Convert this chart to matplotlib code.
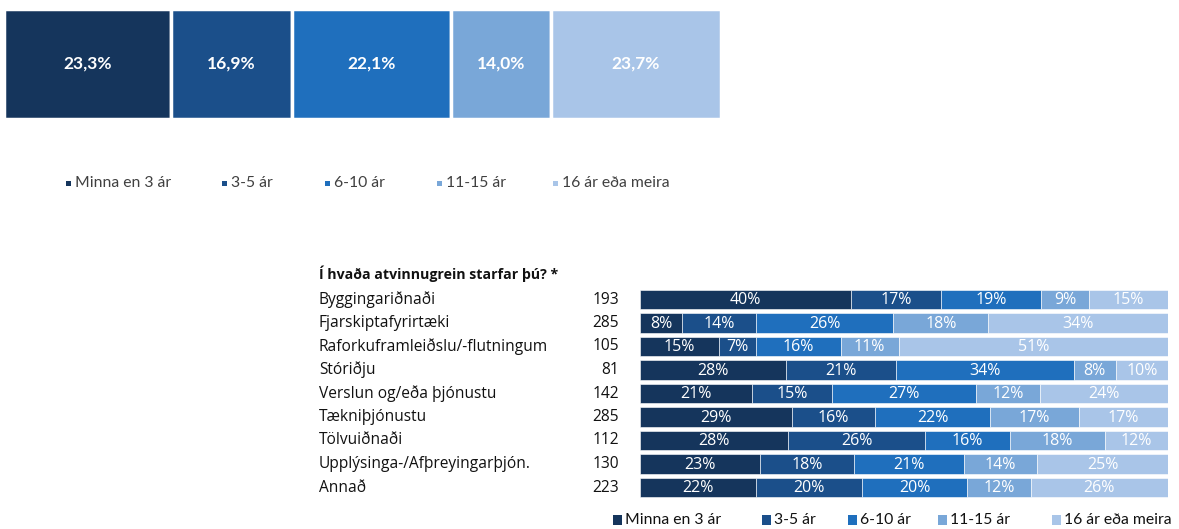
import matplotlib
matplotlib.use("Agg")
import matplotlib.pyplot as plt
from matplotlib.patches import Rectangle
import numpy as np

plt.rcParams['font.family'] = ['Lato', 'DejaVu Sans']
WIDE = ['Open Sans', 'DejaVu Sans']

series = ["Minna en 3 ár", "3-5 ár", "6-10 ár", "11-15 ár", "16 ár eða meira"]
colors = ["#15355c", "#1b4f8a", "#1f6fbd", "#79a7d8", "#a9c5e8"]

total_values = [23.3, 16.9, 22.1, 14.0, 23.7]
total_labels = ["23,3%", "16,9%", "22,1%", "14,0%", "23,7%"]

title2 = "Í hvaða atvinnugrein starfar þú? *"
industries = ["Byggingariðnaði", "Fjarskiptafyrirtæki", "Raforkuframleiðslu/-flutningum",
              "Stóriðju", "Verslun og/eða þjónustu", "Tækniþjónustu", "Tölvuiðnaði",
              "Upplýsinga-/Afþreyingarþjón.", "Annað"]
counts = [193, 285, 105, 81, 142, 285, 112, 130, 223]
s_min3 = [40, 8, 15, 28, 21, 29, 28, 23, 22]
s_3_5 = [17, 14, 7, 21, 15, 16, 26, 18, 20]
s_6_10 = [19, 26, 16, 34, 27, 22, 16, 21, 20]
s_11_15 = [9, 18, 11, 8, 12, 17, 18, 14, 12]
s_16 = [15, 34, 51, 10, 24, 17, 12, 25, 26]

W, H = 1179, 529
fig = plt.figure(figsize=(W / 100, H / 100), dpi=100)
fig.patch.set_facecolor("white")

def px_axes(x0, y0, x1, y1):
    return fig.add_axes([x0 / W, 1 - y1 / H, (x1 - x0) / W, (y1 - y0) / H])

# ---- Top chart ----
ax1 = px_axes(4, 9, 721, 119)
left = 0.0
tot = sum(total_values)
for v, lab, c in zip(total_values, total_labels, colors):
    w = v / tot
    ax1.barh(0, w, left=left, height=1.0, color=c, edgecolor="white", linewidth=2.5)
    ax1.text(left + w / 2, 0, lab, ha="center", va="center", color="white",
             fontsize=12.5, fontweight="bold")
    left += w
ax1.set_xlim(0, 1)
ax1.set_ylim(-0.5, 0.5)
ax1.axis("off")

leg1_x = [66, 222, 325, 437, 553]
for x, lab, c in zip(leg1_x, series, colors):
    fig.add_artist(Rectangle((x / W, 1 - 186 / H), 5 / W, 5 / H, transform=fig.transFigure,
                             color=c, lw=0))
    fig.text((x + 9) / W, 1 - 183 / H, lab, ha="left", va="center", fontsize=11.3,
             color="#404040")

# ---- Bottom chart ----
fig.text(319 / W, 1 - 274 / H, title2, ha="left", va="center", fontsize=10.2,
         fontweight="bold", color="#111111", family=WIDE)

row_top, row_step = 299.5, 23.5
n = len(industries)
ax2 = px_axes(640, row_top - row_step / 2, 1168, row_top + row_step * (n - 0.5))
data = np.array([s_min3, s_3_5, s_6_10, s_11_15, s_16], dtype=float)
data_n = data / data.sum(axis=0)
y = np.arange(n)
lefts = np.zeros(n)
for i in range(len(series)):
    ax2.barh(y, data_n[i], left=lefts, height=0.81, color=colors[i], edgecolor="white",
             linewidth=0.4)
    for j in range(n):
        ax2.text(lefts[j] + data_n[i][j] / 2, y[j] + 0.04, f"{int(data[i][j])}%", ha="center",
                 va="center", color="white", fontsize=11.5, family=WIDE)
    lefts += data_n[i]
ax2.set_xlim(0, 1)
ax2.set_ylim(n - 0.5, -0.5)
ax2.axis("off")

for j in range(n):
    yy = 1 - (row_top + row_step * j) / H
    fig.text(319 / W, yy, industries[j], ha="left", va="center", fontsize=11.2,
             color="#111111", family=WIDE)
    fig.text(619 / W, yy, str(counts[j]), ha="right", va="center", fontsize=11.2,
             color="#111111", family=WIDE)

leg2_x = [613, 762, 848, 938, 1052]
for x, lab, c in zip(leg2_x, series, colors):
    fig.add_artist(Rectangle((x / W, 1 - 525 / H), 9 / W, 10 / H, transform=fig.transFigure,
                             color=c, lw=0))
    fig.text((x + 12) / W, 1 - 520 / H, lab, ha="left", va="center", fontsize=11.3,
             color="#111111")

fig.savefig("out.png", dpi=100)
